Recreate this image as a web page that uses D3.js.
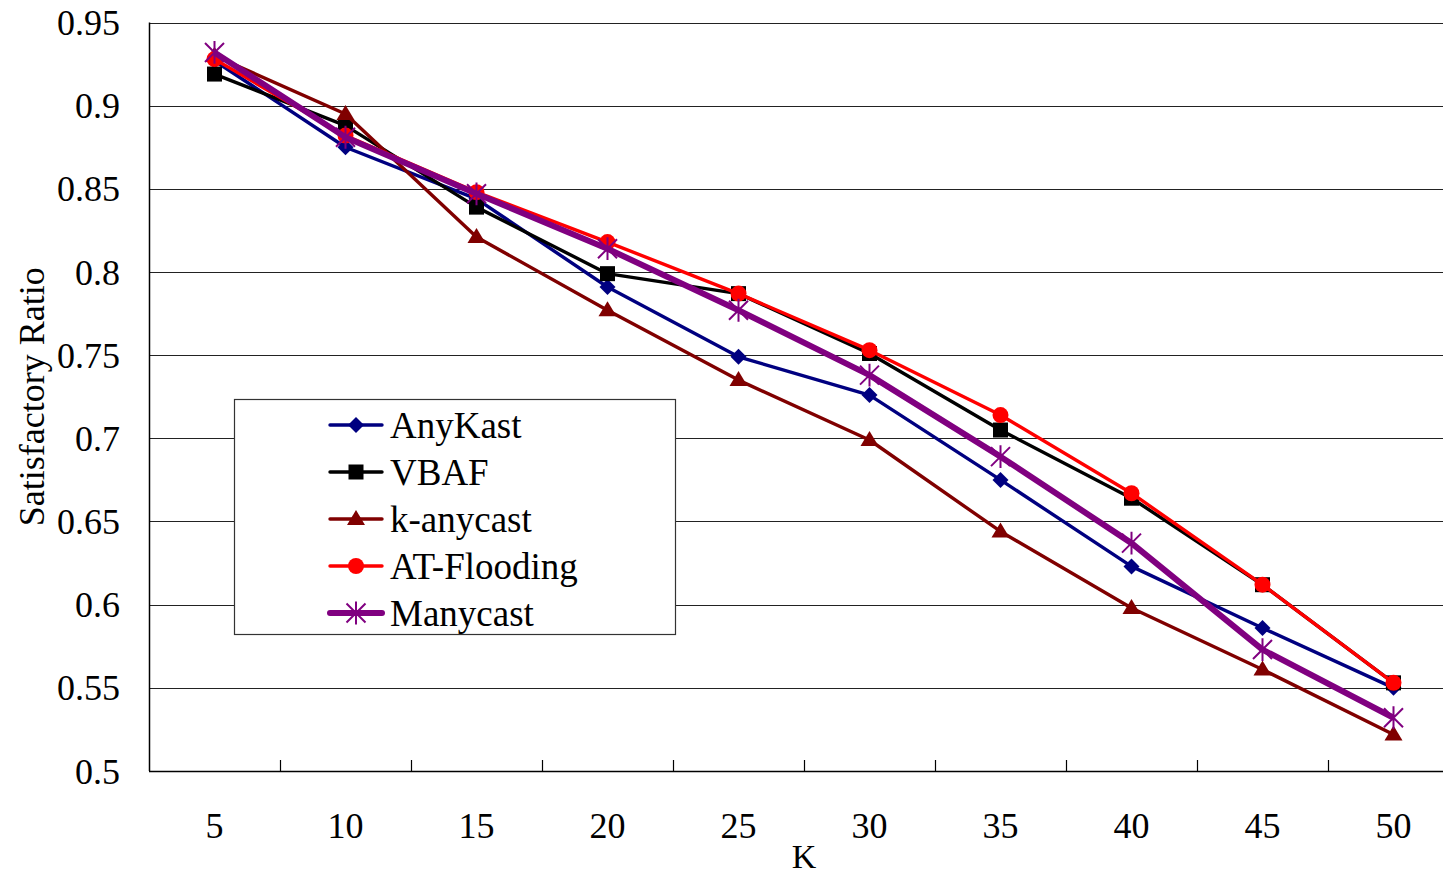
<!DOCTYPE html>
<html>
<head>
<meta charset="utf-8">
<script src="https://cdn.jsdelivr.net/npm/d3@7"></script>
<style>
  html, body { margin: 0; padding: 0; background: #fff; }
  svg { display: block; }
  text { font-family: "Liberation Serif", "Times New Roman", serif; fill: #000; }
</style>
</head>
<body>
<svg id="chart" width="1443" height="875"></svg>
<script>
// K values (x categories)
const kValues = [5, 10, 15, 20, 25, 30, 35, 40, 45, 50];

// Satisfactory ratio per scheme
const anyKast   = [0.927, 0.875, 0.844, 0.791, 0.749, 0.726, 0.675, 0.623, 0.586, 0.550];
const vbaf      = [0.919, 0.888, 0.839, 0.799, 0.787, 0.751, 0.705, 0.664, 0.612, 0.553];
const kAnycast  = [0.930, 0.895, 0.821, 0.777, 0.735, 0.699, 0.644, 0.598, 0.561, 0.522];
const atFlood   = [0.928, 0.882, 0.848, 0.818, 0.787, 0.753, 0.714, 0.667, 0.612, 0.553];
const manycast  = [0.932, 0.881, 0.847, 0.814, 0.777, 0.738, 0.689, 0.637, 0.573, 0.532];

const yTicks = [0.5, 0.55, 0.6, 0.65, 0.7, 0.75, 0.8, 0.85, 0.9, 0.95];
const yTickLabels = ["0.5", "0.55", "0.6", "0.65", "0.7", "0.75", "0.8", "0.85", "0.9", "0.95"];

const seriesNames = ["AnyKast", "VBAF", "k-anycast", "AT-Flooding", "Manycast"];
const seriesValues = [anyKast, vbaf, kAnycast, atFlood, manycast];
const seriesColors = ["#000080", "#000000", "#800000", "#ff0000", "#800080"];
const seriesMarkers = ["diamond", "square", "triangle", "circle", "asterisk"];
const seriesWidths = [3.4, 3.4, 3.4, 3.4, 6];

const svg = d3.select("#chart");
const plot = { left: 149, top: 22.5, right: 1459, bottom: 771 };

const x = d3.scaleBand().domain(kValues).range([plot.left, plot.right]).padding(0);
const y = d3.scaleLinear().domain([0.5, 0.95]).range([plot.bottom, plot.top]);
const cx = k => x(k) + x.bandwidth() / 2;

// horizontal gridlines
svg.append("g").selectAll("line").data(yTicks.slice(1)).join("line")
  .attr("x1", plot.left).attr("x2", plot.right)
  .attr("y1", d => Math.round(y(d)) + 0.5).attr("y2", d => Math.round(y(d)) + 0.5)
  .attr("stroke", "#222").attr("stroke-width", 1.2);

// axes lines
svg.append("line").attr("x1", plot.left + 0.5).attr("x2", plot.left + 0.5)
  .attr("y1", plot.top).attr("y2", plot.bottom).attr("stroke", "#000").attr("stroke-width", 1.5);
svg.append("line").attr("x1", plot.left).attr("x2", plot.right)
  .attr("y1", plot.bottom + 0.5).attr("y2", plot.bottom + 0.5).attr("stroke", "#000").attr("stroke-width", 1.5);

// x tick marks at category boundaries
svg.append("g").selectAll("line").data(kValues.slice(0, -1)).join("line")
  .attr("x1", d => Math.round(x(d) + x.bandwidth()) + 0.5)
  .attr("x2", d => Math.round(x(d) + x.bandwidth()) + 0.5)
  .attr("y1", plot.bottom).attr("y2", plot.bottom - 11)
  .attr("stroke", "#000").attr("stroke-width", 1.2);

// y tick labels
svg.append("g").selectAll("text").data(yTicks).join("text")
  .attr("x", 120).attr("y", d => y(d)).attr("dy", "0.35em")
  .attr("text-anchor", "end").attr("font-size", 36)
  .text((d, i) => yTickLabels[i]);

// x tick labels
svg.append("g").selectAll("text").data(kValues).join("text")
  .attr("x", d => cx(d)).attr("y", 838)
  .attr("text-anchor", "middle").attr("font-size", 36)
  .text(d => d);

// axis titles
svg.append("text").attr("x", (plot.left + plot.right) / 2).attr("y", 868)
  .attr("text-anchor", "middle").attr("font-size", 34).text("K");
svg.append("text")
  .attr("transform", `translate(44, ${(plot.top + plot.bottom) / 2}) rotate(-90)`)
  .attr("text-anchor", "middle").attr("font-size", 36).text("Satisfactory Ratio");

function diamondPath(r) { return `M0,${-r}L${r},0L0,${r}L${-r},0Z`; }

// marker drawing
function drawMarker(g, type, color) {
  if (type === "diamond") {
    g.append("path").attr("d", diamondPath(8)).attr("fill", color);
  } else if (type === "square") {
    g.append("rect").attr("x", -7.5).attr("y", -7.5).attr("width", 15).attr("height", 15).attr("fill", color);
  } else if (type === "triangle") {
    g.append("path").attr("d", "M0,-9 L9,6 L-9,6 Z").attr("fill", color);
  } else if (type === "circle") {
    g.append("circle").attr("r", 8).attr("fill", color);
  } else if (type === "asterisk") {
    const s = 9.5;
    g.append("path")
      .attr("d", `M${-s},${-s}L${s},${s}M${-s},${s}L${s},${-s}M0,${-s * 1.2}L0,${s * 1.2}`)
      .attr("stroke", color).attr("stroke-width", 2).attr("fill", "none");
  }
}

// series lines and markers
const line = d3.line().x((d, i) => cx(kValues[i])).y(d => y(d));
seriesValues.forEach((vals, si) => {
  const g = svg.append("g");
  g.append("path").datum(vals).attr("d", line)
    .attr("fill", "none").attr("stroke", seriesColors[si])
    .attr("stroke-width", seriesWidths[si]).attr("stroke-linejoin", "round");
  vals.forEach((v, i) => {
    const mg = g.append("g").attr("transform", `translate(${cx(kValues[i])},${y(v)})`);
    drawMarker(mg, seriesMarkers[si], seriesColors[si]);
  });
});

// legend
const legend = svg.append("g");
legend.append("rect").attr("x", 234.5).attr("y", 399.5).attr("width", 441).attr("height", 235)
  .attr("fill", "#fff").attr("stroke", "#333").attr("stroke-width", 1.2);
seriesNames.forEach((name, i) => {
  const ry = 425 + i * 47;
  const lg = legend.append("g");
  lg.append("line").attr("x1", 330).attr("x2", 382).attr("y1", ry).attr("y2", ry)
    .attr("stroke", seriesColors[i]).attr("stroke-width", seriesWidths[i]).attr("stroke-linecap", "round");
  const mg = lg.append("g").attr("transform", `translate(356,${ry})`);
  drawMarker(mg, seriesMarkers[i], seriesColors[i]);
  lg.append("text").attr("x", 390).attr("y", ry + 13).attr("font-size", 37).text(name);
});
</script>
</body>
</html>
